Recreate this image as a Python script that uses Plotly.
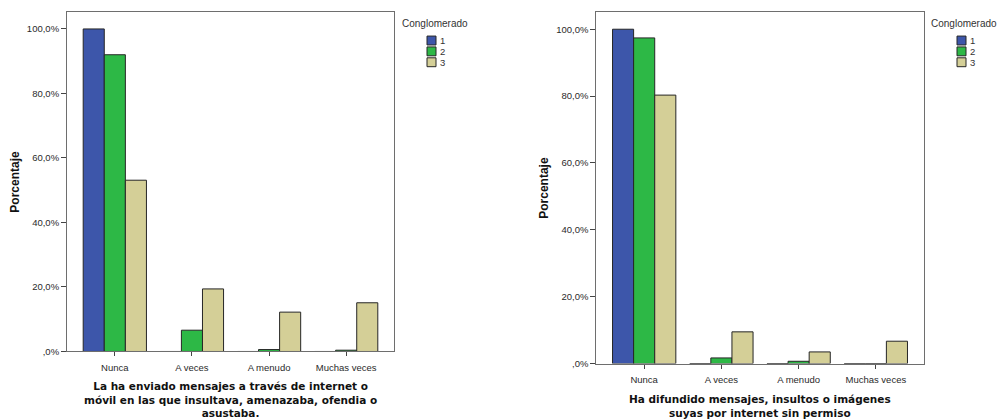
import plotly.graph_objects as go

categories = ["Nunca", "A veces", "A menudo", "Muchas veces"]
series_names = ["1", "2", "3"]
series_colors = ["#3D56AA", "#2DB846", "#D4CF97"]

left_values = [
    [100.0, 0.0, 0.0, 0.0],
    [92.0, 6.6, 0.6, 0.4],
    [53.1, 19.4, 12.2, 15.1],
]
right_values = [
    [100.0, 0.0, 0.0, 0.0],
    [97.4, 1.7, 0.7, 0.0],
    [80.3, 9.5, 3.5, 6.7],
]

y_tickvals = [0, 20, 40, 60, 80, 100]
y_ticktext = [",0%", "20,0%", "40,0%", "60,0%", "80,0%", "100,0%"]

left_xtitle = "La ha enviado mensajes a través de internet o<br>móvil en las que insultava, amenazaba, ofendia o<br>asustaba."
right_xtitle = "Ha difundido mensajes, insultos o imágenes<br>suyas por internet sin permiso"
y_title = "Porcentaje"
legend_title = "Conglomerado"

fig = go.Figure()
for vals, xa, ya in [(left_values, "x", "y"), (right_values, "x2", "y2")]:
    for name, color, v in zip(series_names, series_colors, vals):
        fig.add_trace(go.Bar(
            x=categories, y=v, name=name, xaxis=xa, yaxis=ya,
            marker=dict(color=color, line=dict(color="#262626", width=1)),
            showlegend=False, hoverinfo="skip",
        ))

tickfont = dict(family="Liberation Sans, Arial, sans-serif", size=9.5, color="#2a2a2a")
axis_common = dict(showline=True, linecolor="#6e6e6e", linewidth=1, mirror=True,
                   ticks="outside", tickcolor="#444444", tickfont=tickfont,
                   showgrid=False, zeroline=False)

fig.update_layout(
    width=1000, height=419,
    margin=dict(l=0, r=0, t=0, b=0),
    paper_bgcolor="white", plot_bgcolor="white",
    barmode="group", bargap=0.18, bargroupgap=0,
    xaxis=dict(domain=[0.067, 0.394], anchor="y", range=[-0.62, 3.62], ticklen=4,
               ticklabelstandoff=3, **axis_common),
    yaxis=dict(domain=[0.151, 0.9714], anchor="x", range=[0, 105.3],
               tickvals=y_tickvals, ticktext=y_ticktext, ticklen=5, **axis_common),
    xaxis2=dict(domain=[0.5963, 0.9237], anchor="y2", range=[-0.62, 3.62], ticklen=4,
                ticklabelstandoff=3, **axis_common),
    yaxis2=dict(domain=[0.1217, 0.9714], anchor="x2", range=[0, 105.2],
                tickvals=y_tickvals, ticktext=y_ticktext, ticklen=5, **axis_common),
)

title_font = dict(family="DejaVu Sans, Verdana, sans-serif", size=10.5, color="#111111")
annotations = []
for xref, yref, txt in [("x domain", "y domain", left_xtitle), ("x2 domain", "y2 domain", right_xtitle)]:
    annotations.append(dict(xref=xref, yref=yref, x=0.5, y=0, yanchor="top", xanchor="center",
                            yshift=-27, text="<b>" + txt + "</b>", showarrow=False, font=title_font))
for xpix, yref in [(15, "y domain"), (544, "y2 domain")]:
    annotations.append(dict(xref="paper", yref=yref, x=xpix / 1000, y=0.5, xanchor="center", yanchor="middle",
                            text="<b>" + y_title + "</b>", textangle=-90, showarrow=False,
                            font=dict(family="Liberation Sans, Arial, sans-serif", size=12, color="#111111")))

shapes = []
for lx, sx in [(400, 427), (929, 957)]:
    annotations.append(dict(xref="paper", yref="paper", x=lx / 1000, y=1 - 24 / 419, xanchor="left", yanchor="middle",
                            text=legend_title, showarrow=False,
                            font=dict(family="Liberation Sans, Arial, sans-serif", size=10, color="#333333")))
    for i, (name, color) in enumerate(zip(series_names, series_colors)):
        cy = 41 + 11 * i
        shapes.append(dict(type="rect", xref="paper", yref="paper",
                           x0=sx / 1000, x1=(sx + 9) / 1000, y0=1 - (cy + 4.5) / 419, y1=1 - (cy - 4.5) / 419,
                           fillcolor=color, line=dict(color="#262626", width=1)))
        annotations.append(dict(xref="paper", yref="paper", x=(sx + 11) / 1000, y=1 - cy / 419,
                                xanchor="left", yanchor="middle", text=name, showarrow=False,
                                font=dict(family="Liberation Sans, Arial, sans-serif", size=9.5, color="#333333")))

fig.update_layout(annotations=annotations, shapes=shapes)
fig.write_html("out.html", config={"displayModeBar": False},
               post_script="document.body.style.margin='0';document.body.style.overflow='hidden';")
